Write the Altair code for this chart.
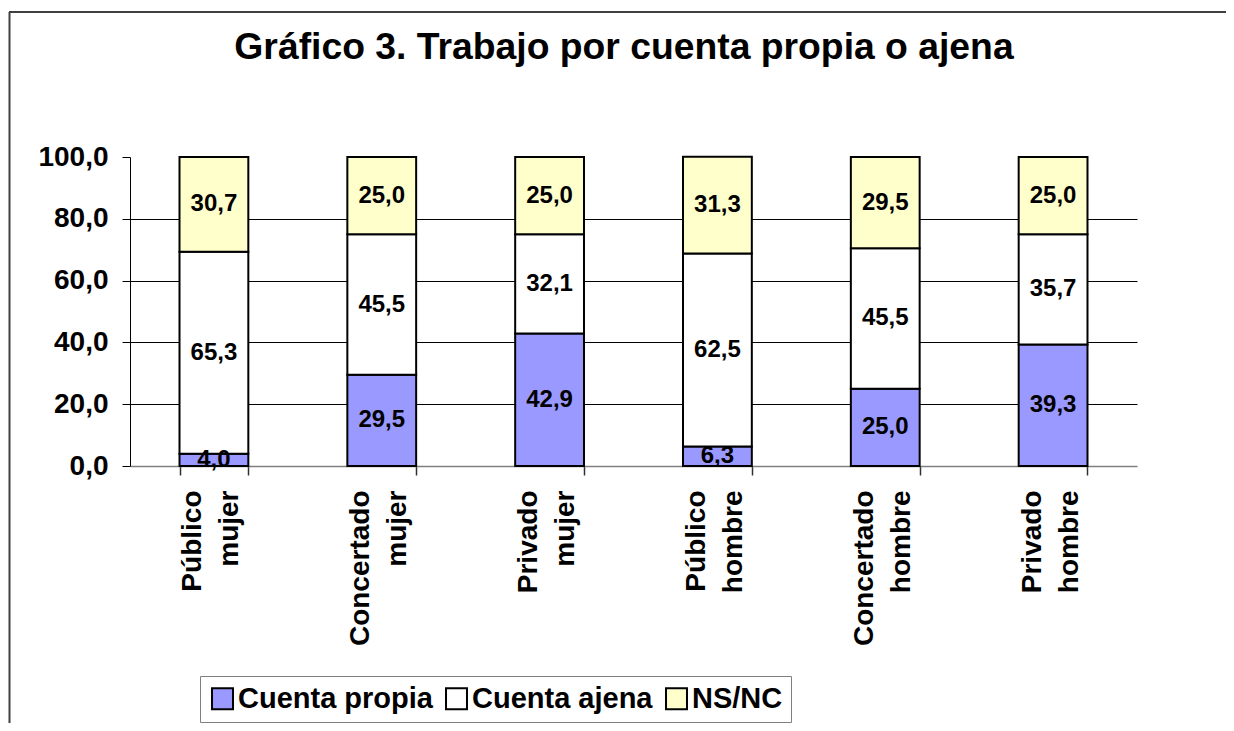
import altair as alt
import pandas as pd

categories = ["Público mujer", "Concertado mujer", "Privado mujer",
              "Público hombre", "Concertado hombre", "Privado hombre"]
series = ["Cuenta propia", "Cuenta ajena", "NS/NC"]
cuenta_propia = [4.0, 29.5, 42.9, 6.3, 25.0, 39.3]
cuenta_ajena = [65.3, 45.5, 32.1, 62.5, 45.5, 35.7]
ns_nc = [30.7, 25.0, 25.0, 31.3, 29.5, 25.0]
y_ticks = [0, 20, 40, 60, 80, 100]
colors = ["#9999FF", "#FFFFFF", "#FFFFCC"]
title_text = "Gráfico 3. Trabajo por cuenta propia o ajena"

rows = []
for s_i, (s, vals) in enumerate(zip(series, [cuenta_propia, cuenta_ajena, ns_nc])):
    for c, v in zip(categories, vals):
        rows.append({"cat": c, "serie": s, "v": v, "orden": s_i})
df = pd.DataFrame(rows)

FONT = "Liberation Sans"

x_enc = alt.X(
    "cat:N", sort=categories,
    scale=alt.Scale(paddingInner=0.59, paddingOuter=0.295),
    axis=alt.Axis(title=None, labelAngle=270, labelAlign="right", labelBaseline="middle",
                  labelExpr="datum.value ? split(datum.value, ' ') : ''",
                  labelFontSize=28, labelFont=FONT,
                  labelFontWeight="bold", labelColor="black", labelLineHeight=37,
                  labelPadding=15, labelOffset=-21, ticks=True, tickBand="extent",
                  tickSize=9, tickColor="#303030", tickWidth=1.5,
                  domainColor="#808080", domainWidth=1.5, labelLimit=0),
)

base = alt.Chart(df).transform_stack(
    stack="v", groupby=["cat"], as_=["y0", "y1"],
    sort=[alt.SortField("orden", order="ascending")],
).transform_calculate(
    mid="(datum.y0 + datum.y1) / 2",
    lab="replace(format(datum.v, '.1f'), '.', ',')",
)

bars = base.mark_bar(stroke="black", strokeWidth=2).encode(
    x=x_enc,
    y=alt.Y("y0:Q", scale=alt.Scale(domain=[0, 100], nice=False),
            axis=alt.Axis(values=y_ticks, title=None,
                          labelExpr="replace(format(datum.value, '.1f'), '.', ',')",
                          labelFontSize=28, labelFont=FONT, labelFontWeight="bold",
                          labelColor="black", labelPadding=14, tickSize=8, tickColor="black",
                          domainColor="black", grid=True, gridColor="black",
                          gridOpacity={"condition": {"test": "datum.value <= 0 || datum.value >= 100", "value": 0}, "value": 1})),
    y2="y1:Q",
    color=alt.Color("serie:N", scale=alt.Scale(domain=series, range=colors),
                    legend=alt.Legend(orient="none", legendX=70, legendY=519,
                                      direction="horizontal", title=None,
                                      symbolType="square", symbolSize=440,
                                      symbolStrokeColor="black", symbolStrokeWidth=2,
                                      symbolOpacity=1,
                                      labelFontSize=29, labelFont=FONT, labelFontWeight="bold",
                                      labelColor="black", labelOffset=1, columnPadding=9,
                                      padding=8, strokeColor="#808080", fillColor="white",
                                      labelLimit=0)),
)

texts = base.mark_text(font=FONT, fontSize=24, fontWeight="bold", color="black",
                       baseline="middle", align="center").encode(
    x=alt.X("cat:N", sort=categories),
    y=alt.Y("mid:Q"),
    text="lab:N",
)

frame_df = pd.DataFrame({"k": [0]})
top_line = alt.Chart(frame_df).mark_rule(color="#404040", strokeWidth=2).encode(
    x=alt.value(-121), x2=alt.value(1100), y=alt.value(-145))
left_line = alt.Chart(frame_df).mark_rule(color="#404040", strokeWidth=2).encode(
    x=alt.value(-120.5), y=alt.value(-145), y2=alt.value(570))

chart = alt.layer(bars, texts, top_line, left_line).properties(
    width=1007, height=309,
    autosize=alt.AutoSizeParams(type="none"),
    padding={"left": 122, "top": 149, "right": 89, "bottom": 257},
    title=alt.TitleParams(title_text, fontSize=37.3, font=FONT, fontWeight="bold",
                          color="black", anchor="middle", frame="group", dx=-9.5,
                          offset=-85.5, baseline="alphabetic"),
).configure_view(stroke=None)

chart.save("out.html", embed_options={"renderer": "svg", "actions": False})
